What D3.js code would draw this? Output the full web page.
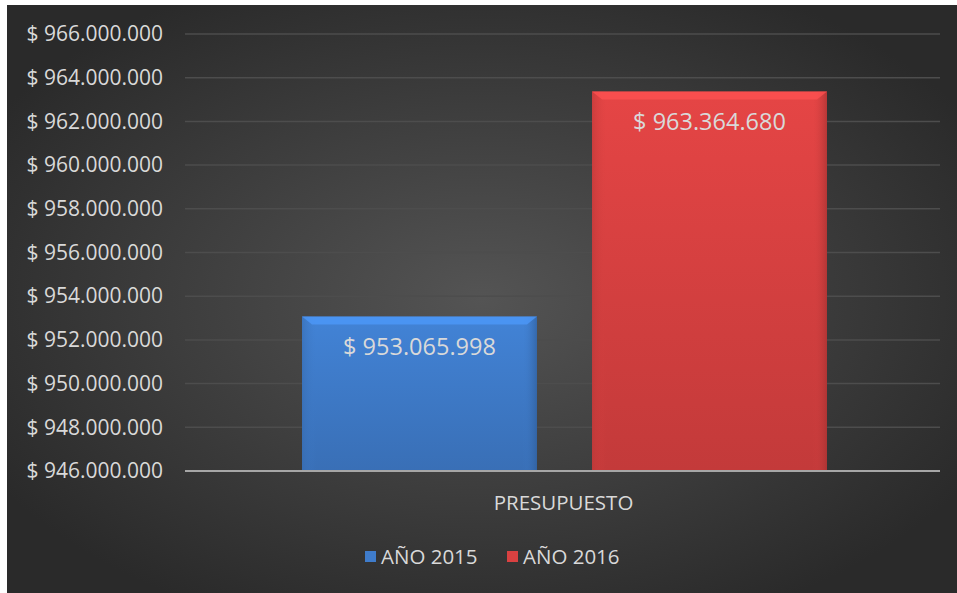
<!DOCTYPE html>
<html>
<head>
<meta charset="utf-8">
<script src="https://cdn.jsdelivr.net/npm/d3@7"></script>
<style>
  body { margin: 0; background: #fff; }
  svg text { font-family: "Open Sans", "Noto Sans", sans-serif; fill: #d9d9d9; }
</style>
</head>
<body>
<div id="chart"></div>
<script>
var categories = ["PRESUPUESTO"];
var seriesNames = ["AÑO 2015", "AÑO 2016"];
var seriesValues = [953065998, 963364680];
var seriesColors = ["#3f7ccb", "#d94141"];
var tickValues = [946000000, 948000000, 950000000, 952000000, 954000000, 956000000,
	958000000, 960000000, 962000000, 964000000, 966000000];

var width = 957, height = 593;
var margin = { top: 34, right: 17, bottom: 122, left: 185 };
var innerW = width - margin.left - margin.right,
	innerH = height - margin.top - margin.bottom;

var svg = d3.select("#chart")
	.append("svg")
	.attr("width", width)
	.attr("height", height);

var defs = svg.append("defs");
var bg = defs.append("radialGradient")
	.attr("id", "bg")
	.attr("cx", "50%").attr("cy", "50%").attr("r", "60%");
bg.append("stop").attr("offset", "0%").attr("stop-color", "#545454");
bg.append("stop").attr("offset", "100%").attr("stop-color", "#2a2a2a");

seriesColors.forEach(function (c, i) {
	var g = defs.append("linearGradient")
		.attr("id", "bar" + i)
		.attr("x1", 0).attr("y1", 0).attr("x2", 0).attr("y2", 1);
	g.append("stop").attr("offset", "0%").attr("stop-color", d3.color(c).brighter(0.15));
	g.append("stop").attr("offset", "100%").attr("stop-color", d3.color(c).darker(0.3));
	var s = defs.append("linearGradient")
		.attr("id", "side" + i)
		.attr("x1", 0).attr("y1", 0).attr("x2", 1).attr("y2", 0);
	s.append("stop").attr("offset", "0%").attr("stop-color", d3.color(c).darker(0.4)).attr("stop-opacity", 0.6);
	s.append("stop").attr("offset", "6%").attr("stop-color", c).attr("stop-opacity", 0);
	s.append("stop").attr("offset", "94%").attr("stop-color", c).attr("stop-opacity", 0);
	s.append("stop").attr("offset", "100%").attr("stop-color", d3.color(c).darker(0.8)).attr("stop-opacity", 0.7);
});

svg.append("rect")
	.attr("x", 7).attr("y", 5)
	.attr("width", width - 7).attr("height", height - 5)
	.attr("fill", "url(#bg)");

var g = svg.append("g")
	.attr("transform", "translate(" + margin.left + "," + margin.top + ")");

var y = d3.scaleLinear()
	.domain([946000000, 966000000])
	.range([innerH, 0]);

var x0 = d3.scaleBand()
	.domain(categories)
	.range([0, innerW]);

var x1 = d3.scaleBand()
	.domain(seriesNames)
	.range([x0.bandwidth() * 0.155, x0.bandwidth() * 0.8503])
	.paddingInner(0.19);

var fmt = function (v) {
	return "$ " + d3.format(",")(v).replace(/,/g, ".");
};

// gridlines
g.append("g")
	.selectAll("line")
	.data(tickValues.slice(1))
	.enter()
	.append("line")
	.attr("x1", 0).attr("x2", innerW)
	.attr("y1", function (d) { return y(d); })
	.attr("y2", function (d) { return y(d); })
	.attr("stroke", "#4d4d4d")
	.attr("stroke-width", 1.5);

// y axis labels
var yAxis = g.append("g")
	.call(d3.axisLeft(y).tickValues(tickValues).tickFormat(fmt).tickSize(0).tickPadding(22));
yAxis.select(".domain").remove();
yAxis.selectAll("text")
	.style("font-size", "21px")
	.attr("fill", "#d9d9d9");

// bars
var bars = g.selectAll(".bar")
	.data(seriesValues)
	.enter()
	.append("g")
	.attr("class", "bar");

bars.append("rect")
	.attr("x", function (d, i) { return x0(categories[0]) + x1(seriesNames[i]); })
	.attr("y", function (d) { return y(d); })
	.attr("width", x1.bandwidth())
	.attr("height", function (d) { return innerH - y(d); })
	.attr("fill", function (d, i) { return "url(#bar" + i + ")"; });

bars.append("rect")
	.attr("x", function (d, i) { return x0(categories[0]) + x1(seriesNames[i]); })
	.attr("y", function (d) { return y(d); })
	.attr("width", x1.bandwidth())
	.attr("height", function (d) { return innerH - y(d); })
	.attr("fill", function (d, i) { return "url(#side" + i + ")"; });

// top bevel
bars.append("path")
	.attr("d", function (d, i) {
		var bx = x0(categories[0]) + x1(seriesNames[i]), by = y(d), w = x1.bandwidth();
		return "M" + bx + "," + by + "L" + (bx + w) + "," + by + "L" + (bx + w - 10) + "," + (by + 8) +
			"L" + (bx + 10) + "," + (by + 8) + "Z";
	})
	.attr("fill", function (d, i) { return d3.color(seriesColors[i]).brighter(0.6); })
	.attr("opacity", 0.75);

bars.append("text")
	.attr("x", function (d, i) { return x0(categories[0]) + x1(seriesNames[i]) + x1.bandwidth() / 2; })
	.attr("y", function (d) { return y(d) + 38; })
	.attr("text-anchor", "middle")
	.style("font-size", "23.5px")
	.text(function (d) { return fmt(d); });

// baseline
g.append("line")
	.attr("x1", 0).attr("x2", innerW)
	.attr("y1", innerH).attr("y2", innerH)
	.attr("stroke", "#a6a6a6")
	.attr("stroke-width", 2);

// category label
g.append("text")
	.attr("x", x0(categories[0]) + x0.bandwidth() / 2 + 1)
	.attr("y", innerH + 39)
	.attr("text-anchor", "middle")
	.style("font-size", "20.5px")
	.text(categories[0]);

// legend
var legend = svg.append("g");
var legendX = [365, 507];
seriesNames.forEach(function (name, i) {
	var lg = legend.append("g").attr("transform", "translate(" + legendX[i] + ",551)");
	lg.append("rect")
		.attr("width", 11).attr("height", 11)
		.attr("fill", seriesColors[i]);
	lg.append("text")
		.attr("x", 16).attr("y", 13)
		.style("font-size", "20.5px")
		.text(name);
});
</script>
</body>
</html>
